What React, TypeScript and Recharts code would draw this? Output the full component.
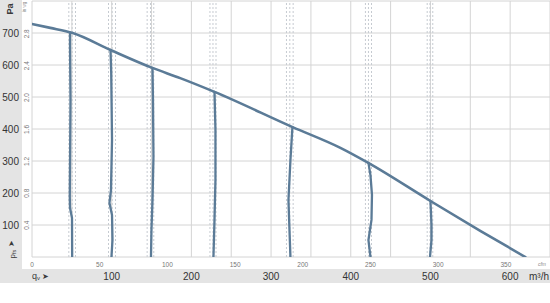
import React from 'react';
import { LineChart, Line, XAxis, YAxis, CartesianGrid, ReferenceLine } from 'recharts';

// unit conversions
const M3H_PER_CFM = 1.69901;
const PA_PER_INWG = 249.089;
const Q_MAX = 650; // m³/h
const PA_MAX = 800; // Pa

// axis ticks
const m3hTicks = [0, 50, 100, 150, 200, 250, 300, 350, 400, 450, 500, 550, 600, 650];
const m3hLabels = [100, 200, 300, 400, 500, 600];
const paTicks = [0, 100, 200, 300, 400, 500, 600, 700];
const paLabels = [100, 200, 300, 400, 500, 600, 700];
const cfmTicks = [0, 50, 100, 150, 200, 250, 300, 350];
const inwgTicks = [0.4, 0.8, 1.2, 1.6, 2.0, 2.4, 2.8];

// fan curve (m³/h, Pa)
const curveQ = [0, 23, 51, 98.5, 151, 186, 229, 327, 387, 422, 500, 563, 619];
const curvePa = [728, 716, 700, 647, 591, 559, 516, 406, 341, 294, 175, 81, 0];

// operating-point lines (m³/h, Pa)
const op1Q = [47.7, 47.7, 48.3, 47.4, 47.7, 50.2, 50.4];
const op1Pa = [701, 662, 491, 188, 153, 122, 0];
const op2Q = [98.5, 99.4, 100.4, 99.1, 97.2, 100.4, 101, 99.7];
const op2Pa = [647, 575, 366, 209, 169, 131, 53, 0];
const op3Q = [151.2, 151.8, 152.4, 151.2, 149.9, 149.3];
const op3Pa = [591, 491, 313, 178, 84, 0];
const op4Q = [229, 230.2, 230.2, 229, 227.7];
const op4Pa = [516, 397, 241, 116, 0];
const op5Q = [326.8, 324.3, 321.8, 323.1, 324.3];
const op5Pa = [406, 303, 178, 84, 0];
const op6Q = [422.2, 424.7, 426.6, 426, 422.2, 424.7];
const op6Pa = [294, 256, 194, 116, 53, 0];
const op7Q = [500, 501.3, 501.3, 499.4];
const op7Pa = [175, 100, 53, 0];

// dashed guide lines (m³/h)
const dashedQ = [
  46.2, 50.4, 54.6, 96, 100.6, 104.8, 144.5, 148.7, 152.8, 223.3, 227.1, 230.9,
  319.3, 323.5, 327.7, 418.4, 422.2, 426, 495.9, 499.4, 502.9,
];

const zip = (qs: number[], ps: number[]) => qs.map((q, i) => ({ q, p: ps[i] }));
const curveData = zip(curveQ, curvePa);
const opLines = [
  zip(op1Q, op1Pa), zip(op2Q, op2Pa), zip(op3Q, op3Pa), zip(op4Q, op4Pa),
  zip(op5Q, op5Pa), zip(op6Q, op6Pa), zip(op7Q, op7Pa),
];

const GRAY = '#e4e4e4';
const BLUE = '#5b7b97';
const FONT = '"Liberation Sans", Arial, sans-serif';

const PaTick = (props: any) => {
  const { x, y, payload } = props;
  if (!paLabels.includes(payload.value)) return <g />;
  return (
    <text x={x - 3} y={y} textAnchor="end" dominantBaseline="central" fontSize={10} fill="#333" fontFamily={FONT}>
      {payload.value}
    </text>
  );
};

const InwgTick = (props: any) => {
  const { x, y, payload } = props;
  const cx = x - 5.5;
  return (
    <text x={cx} y={y} transform={`rotate(-90, ${cx}, ${y})`} textAnchor="middle" dominantBaseline="central" fontSize={6.5} fill="#777" fontFamily={FONT}>
      {payload.value.toFixed(1)}
    </text>
  );
};

const CfmTick = (props: any) => {
  const { x, y, payload } = props;
  return (
    <text x={x} y={y + 7} textAnchor="middle" dominantBaseline="central" fontSize={6.5} fill="#777" fontFamily={FONT}>
      {payload.value}
    </text>
  );
};

const M3hTick = (props: any) => {
  const { x, y, payload } = props;
  if (!m3hLabels.includes(payload.value)) return <g />;
  return (
    <text x={x} y={y + 7} textAnchor="middle" dominantBaseline="central" fontSize={10} fill="#333" fontFamily={FONT}>
      {payload.value}
    </text>
  );
};

export default function App() {
  return (
    <div style={{ position: 'absolute', left: 0, top: 0, width: 550, height: 303, background: '#fff', fontFamily: FONT }}>
      <div style={{ position: 'absolute', left: 0, top: 0, width: 22, height: 283, background: GRAY }} />
      <div style={{ position: 'absolute', left: 0, top: 269, width: 550, height: 14, background: GRAY }} />
      <div style={{ position: 'absolute', left: 0, top: 0 }}>
        <LineChart width={550} height={303} margin={{ top: 1, right: 0, bottom: 20, left: 0 }}>
          <CartesianGrid xAxisId="m3h" yAxisId="pa" stroke="#d4d4d4" strokeWidth={1} />
          <XAxis
            xAxisId="cfm"
            dataKey="cfm"
            type="number"
            domain={[0, Q_MAX / M3H_PER_CFM]}
            ticks={cfmTicks}
            height={12}
            axisLine={false}
            tickLine={false}
            tickSize={0}
            tickMargin={0}
            tick={<CfmTick />}
            interval={0}
            allowDataOverflow
          />
          <XAxis
            xAxisId="m3h"
            dataKey="q"
            type="number"
            domain={[0, Q_MAX]}
            ticks={m3hTicks}
            height={14}
            axisLine={false}
            tickLine={false}
            tickSize={0}
            tickMargin={0}
            tick={<M3hTick />}
            interval={0}
            allowDataOverflow
          />
          <YAxis
            yAxisId="inwg"
            type="number"
            domain={[0, PA_MAX / PA_PER_INWG]}
            ticks={inwgTicks}
            width={10}
            axisLine={false}
            tickLine={false}
            tickSize={0}
            tickMargin={0}
            tick={<InwgTick />}
            interval={0}
            allowDataOverflow
          />
          <YAxis
            yAxisId="pa"
            type="number"
            domain={[0, PA_MAX]}
            ticks={paTicks}
            width={22}
            axisLine={false}
            tickLine={false}
            tickSize={0}
            tickMargin={0}
            tick={<PaTick />}
            interval={0}
            allowDataOverflow
          />
          {dashedQ.map((q, i) => (
            <ReferenceLine key={i} xAxisId="m3h" yAxisId="pa" x={q} stroke="#c6cbd1" strokeWidth={1} strokeDasharray="2 2" />
          ))}
          <Line
            xAxisId="m3h"
            yAxisId="pa"
            data={curveData}
            dataKey="p"
            type="monotone"
            stroke={BLUE}
            strokeWidth={2.6}
            dot={false}
            activeDot={false}
            isAnimationActive={false}
            strokeLinecap="round"
          />
          {opLines.map((d, i) => (
            <Line
              key={i}
              xAxisId="m3h"
              yAxisId="pa"
              data={d}
              dataKey="p"
              type="linear"
              stroke={BLUE}
              strokeWidth={2.3}
              dot={false}
              activeDot={false}
              isAnimationActive={false}
              strokeLinecap="round"
              strokeLinejoin="round"
            />
          ))}
        </LineChart>
      </div>
      <svg width={550} height={303} style={{ position: 'absolute', left: 0, top: 0, pointerEvents: 'none' }}>
        <text x={10} y={9} transform="rotate(-90, 10, 9)" textAnchor="middle" dominantBaseline="central" fontSize={9} fontWeight="bold" fill="#3a3a3a" fontFamily={FONT}>Pa</text>
        <text x={24.5} y={7} transform="rotate(-90, 24.5, 7)" textAnchor="middle" dominantBaseline="central" fontSize={4.5} fill="#8a8a8a" fontFamily={FONT}>in wg</text>
        <text x={11.5} y={243.5} transform="rotate(-90, 11.5, 243.5)" textAnchor="middle" dominantBaseline="central" fontSize={8} fill="#3a3a3a" fontFamily={FONT}>➤</text>
        <text x={12} y={254} transform="rotate(-90, 12, 254)" textAnchor="middle" dominantBaseline="central" fontSize={8} fill="#3a3a3a" fontFamily={FONT}>
          p<tspan fontSize={5.5} dy={1.5}>fs</tspan>
        </text>
        <text x={32} y={276} dominantBaseline="central" fontSize={9} fill="#3a3a3a" fontFamily={FONT}>
          q<tspan fontSize={6} dy={1.5}>v</tspan>
          <tspan dy={-1.5} fontSize={8} dx={2}>➤</tspan>
        </text>
        <text x={542} y={264} textAnchor="middle" dominantBaseline="central" fontSize={5} fontStyle="italic" fill="#8a8a8a" fontFamily={FONT}>cfm</text>
        <text x={539} y={276} textAnchor="middle" dominantBaseline="central" fontSize={10} fill="#333" fontFamily={FONT}>m³/h</text>
      </svg>
    </div>
  );
}
